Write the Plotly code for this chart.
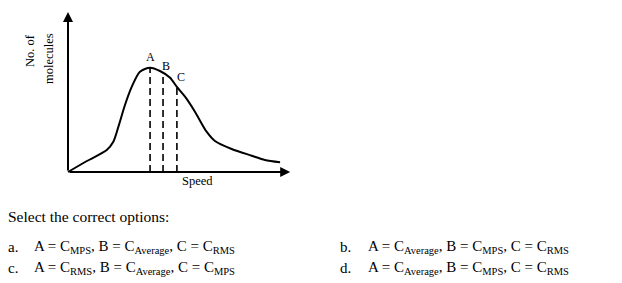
import plotly.graph_objects as go

# ---- data (arbitrary units) ----
speed = [0.0, 0.86, 1.76, 2.06, 2.29, 2.59, 2.9, 3.27, 3.73, 4.18, 4.64, 4.94,
         5.32, 5.77, 6.3, 6.68, 7.44, 8.35, 8.95, 9.64]
molecules = [0.0, 1.1, 2.2, 3.03, 4.53, 6.7, 8.53, 10.03, 10.43, 10.1, 9.43, 8.53,
             7.53, 6.03, 4.03, 3.1, 2.3, 1.63, 1.2, 0.97]
marker_names = ["A", "B", "C"]
marker_speed = [3.73, 4.32, 4.95]
marker_height = [10.43, 9.7, 8.5]
x_axis_end = 10.1
y_axis_end = 16.0

options = [
    ("a.", "A = C<sub>MPS</sub>, B = C<sub>Average</sub>, C = C<sub>RMS</sub>"),
    ("b.", "A = C<sub>Average</sub>, B = C<sub>MPS</sub>, C = C<sub>RMS</sub>"),
    ("c.", "A = C<sub>RMS</sub>, B = C<sub>Average</sub>, C = C<sub>MPS</sub>"),
    ("d.", "A = C<sub>Average</sub>, B = C<sub>MPS</sub>, C = C<sub>RMS</sub>"),
]
question = "Select the correct options:"
x_title = "Speed"
y_title = ["No. of", "molecules"]

W, H = 622, 283
SERIF = "Liberation Serif"

fig = go.Figure()
fig.add_trace(go.Scatter(x=speed, y=molecules, mode="lines",
                         line=dict(color="black", width=2, shape="spline", smoothing=0.8),
                         hoverinfo="skip", showlegend=False))
for nm, sx, hy in zip(marker_names, marker_speed, marker_height):
    fig.add_trace(go.Scatter(x=[sx, sx], y=[0, hy], mode="lines",
                             line=dict(color="black", width=1.6, dash="7px,4px"),
                             hoverinfo="skip", showlegend=False))

anns = []
# axes with arrows
anns.append(dict(x=x_axis_end, y=0, ax=0, ay=0, xref="x", yref="y", axref="x", ayref="y",
                 showarrow=True, arrowhead=2, arrowsize=1, arrowwidth=2, arrowcolor="black", text=""))
anns.append(dict(x=0, y=y_axis_end, ax=0, ay=0, xref="x", yref="y", axref="x", ayref="y",
                 showarrow=True, arrowhead=2, arrowsize=1, arrowwidth=2, arrowcolor="black", text=""))
# point labels
label_off = [(0.0, 1.1), (0.15, 0.95), (0.2, 1.0)]
for nm, sx, hy, (dx, dy) in zip(marker_names, marker_speed, marker_height, label_off):
    anns.append(dict(x=sx + dx, y=hy + dy, xref="x", yref="y", text=nm, showarrow=False,
                     xanchor="center", yanchor="middle",
                     font=dict(family=SERIF, size=12, color="black")))
anns.append(dict(x=197 / W, y=1 - 181 / H, xref="paper", yref="paper", text=x_title,
                 showarrow=False, xanchor="center", yanchor="middle",
                 font=dict(family=SERIF, size=12.5, color="black")))
for t, px, py in zip(y_title, [30, 49], [50, 59]):
    anns.append(dict(x=px / W, y=1 - py / H, xref="paper", yref="paper", text=t, textangle=-90,
                     showarrow=False, xanchor="center", yanchor="middle",
                     font=dict(family=SERIF, size=12.5, color="black")))
# question text
anns.append(dict(x=6 / W, y=1 - 216 / H, xref="paper", yref="paper", text=question,
                 showarrow=False, xanchor="left", yanchor="middle",
                 font=dict(family=SERIF, size=15.5, color="black")))
pos = [(6, 32, 247), (338, 366, 247), (6, 32, 268), (338, 366, 268)]
for (lab, txt), (lx, tx, py) in zip(options, pos):
    anns.append(dict(x=lx / W, y=1 - py / H, xref="paper", yref="paper", text=lab,
                     showarrow=False, xanchor="left", yanchor="middle",
                     font=dict(family=SERIF, size=15, color="black")))
    anns.append(dict(x=tx / W, y=1 - py / H, xref="paper", yref="paper", text=txt,
                     showarrow=False, xanchor="left", yanchor="middle",
                     font=dict(family=SERIF, size=15, color="black")))

fig.update_layout(
    width=W, height=H, margin=dict(l=0, r=0, t=0, b=0),
    paper_bgcolor="white", plot_bgcolor="white",
    xaxis=dict(range=[-68 / 22, (W - 68) / 22], visible=False, fixedrange=True),
    yaxis=dict(range=[-11.1, 17.2], visible=False, fixedrange=True),
    annotations=anns, showlegend=False,
)
fig.write_html("out.html")
